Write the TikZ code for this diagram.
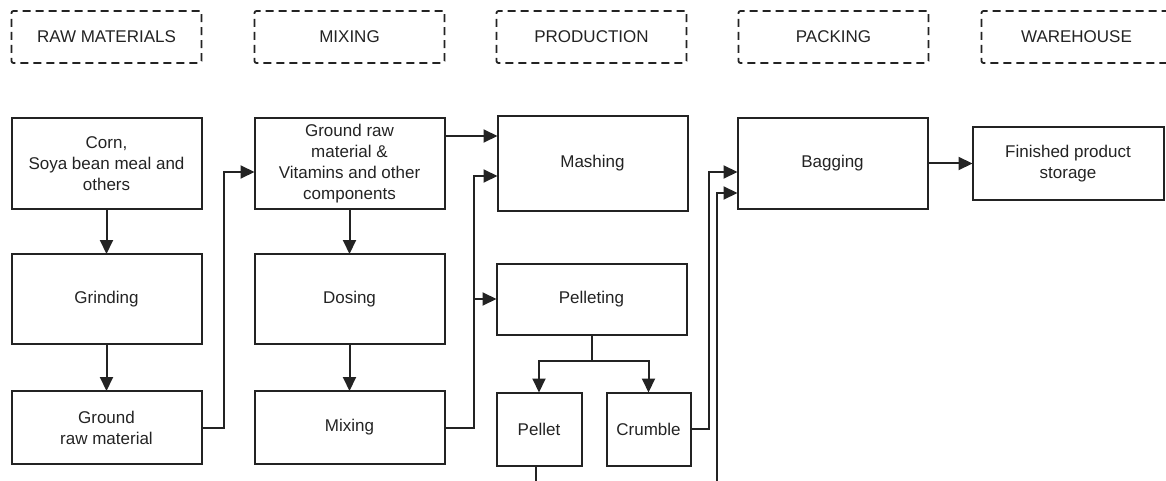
\documentclass[tikz,border=0pt]{standalone}
\usepackage{fontspec}
\setmainfont{Liberation Sans}
\usepackage{tikz}
\usetikzlibrary{arrows.meta, positioning}
\definecolor{inkgray}{RGB}{35, 35, 35}

\begin{document}
\begin{tikzpicture}[
    stage/.style={draw=inkgray, line width=2pt, outer sep=0pt, minimum width=190pt, minimum height=91pt, inner sep=2pt, align=center, text=inkgray, font=\fontsize{17}{21}\selectfont},
    phase/.style={draw=inkgray, line width=1.8pt, outer sep=0pt, dash pattern=on 8pt off 5pt, rounded corners=2pt, minimum width=190pt, minimum height=52pt, text=inkgray, font=\fontsize{17}{21}\selectfont},
    arrow/.style={-{Triangle[length=14pt, width=13pt]}, line width=2pt, inkgray},
    link/.style={line width=2pt, inkgray}
]
    \useasboundingbox (0,0) rectangle (1166pt,-481pt);

    % Nodes - raw materials column
    \node[stage] (corn) at (106.5pt,-163.5pt) {Corn,\\Soya bean meal and\\others};
    \node[stage, minimum height=90pt, below=45pt of corn] (grinding) {Grinding};
    \node[stage, minimum height=73pt, below=47pt of grinding] (groundraw) {Ground\\raw material};

    % Nodes - mixing column
    \node[stage, right=53pt of corn] (vitamins) {Ground raw\\material \&\\Vitamins and other\\components};
    \node[stage, minimum height=90pt, right=53pt of grinding] (dosing) {Dosing};
    \node[stage, minimum height=73pt, right=53pt of groundraw] (mixing) {Mixing};

    % Nodes - production column
    \node[stage, minimum height=95pt, right=53pt of vitamins] (mashing) {Mashing};
    \node[stage, minimum height=71pt, right=52pt of dosing] (pelleting) {Pelleting};
    \node[stage, minimum width=85pt, minimum height=73pt, below right=58pt and 0pt of pelleting.south west] (pellet) {Pellet};
    \node[stage, minimum width=84pt, minimum height=73pt, right=25pt of pellet] (crumble) {Crumble};

    % Nodes - packing and warehouse
    \node[stage, right=50pt of mashing] (bagging) {Bagging};
    \node[stage, minimum width=191pt, minimum height=72pt, right=45pt of bagging] (storage) {Finished product\\storage};

    % Nodes - phase headers
    \node[phase, above=55pt of corn] (rawhead) {RAW MATERIALS};
    \node[phase, right=53pt of rawhead] (mixhead) {MIXING};
    \node[phase, right=52pt of mixhead] (prodhead) {PRODUCTION};
    \node[phase, right=52pt of prodhead] (packhead) {PACKING};
    \node[phase, right=53pt of packhead] (warehead) {WAREHOUSE};

    % Arrows - raw materials
    \draw[arrow] (corn) -- (grinding);
    \draw[arrow] (grinding) -- (groundraw);
    \draw[arrow] (groundraw.east) -- ++(22pt,0) |- ([yshift=-8.5pt]vitamins.west);

    % Arrows - mixing
    \draw[arrow] (vitamins) -- (dosing);
    \draw[arrow] (dosing) -- (mixing);
    \draw[arrow] ([yshift=27.5pt]vitamins.east) -- ([yshift=27.5pt]vitamins.east -| mashing.west);
    \draw[arrow] (mixing.east) -- ++(29pt,0) coordinate (mixbend) |- ([yshift=-12.5pt]mashing.west);
    \draw[arrow] (mixbend |- pelleting.west) -- (pelleting.west);

    % Arrows - production
    \draw[link] (pelleting.south) -- ++(0,-26pt) coordinate (split);
    \draw[arrow] (split) -| (pellet.north);
    \draw[arrow] (split) -| (crumble.north);
    \draw[link] ([xshift=-3.5pt]pellet.south) -- ++(0,-16pt);
    \draw[arrow] (crumble.east) -- ++(18pt,0) |- ([yshift=-8.5pt]bagging.west);
    \coordinate (feedin) at (717pt,-483pt);
    \draw[arrow] (feedin) |- ([yshift=-29.5pt]bagging.west);

    % Arrows - packing
    \draw[arrow] (bagging) -- (storage);
\end{tikzpicture}
\end{document}
